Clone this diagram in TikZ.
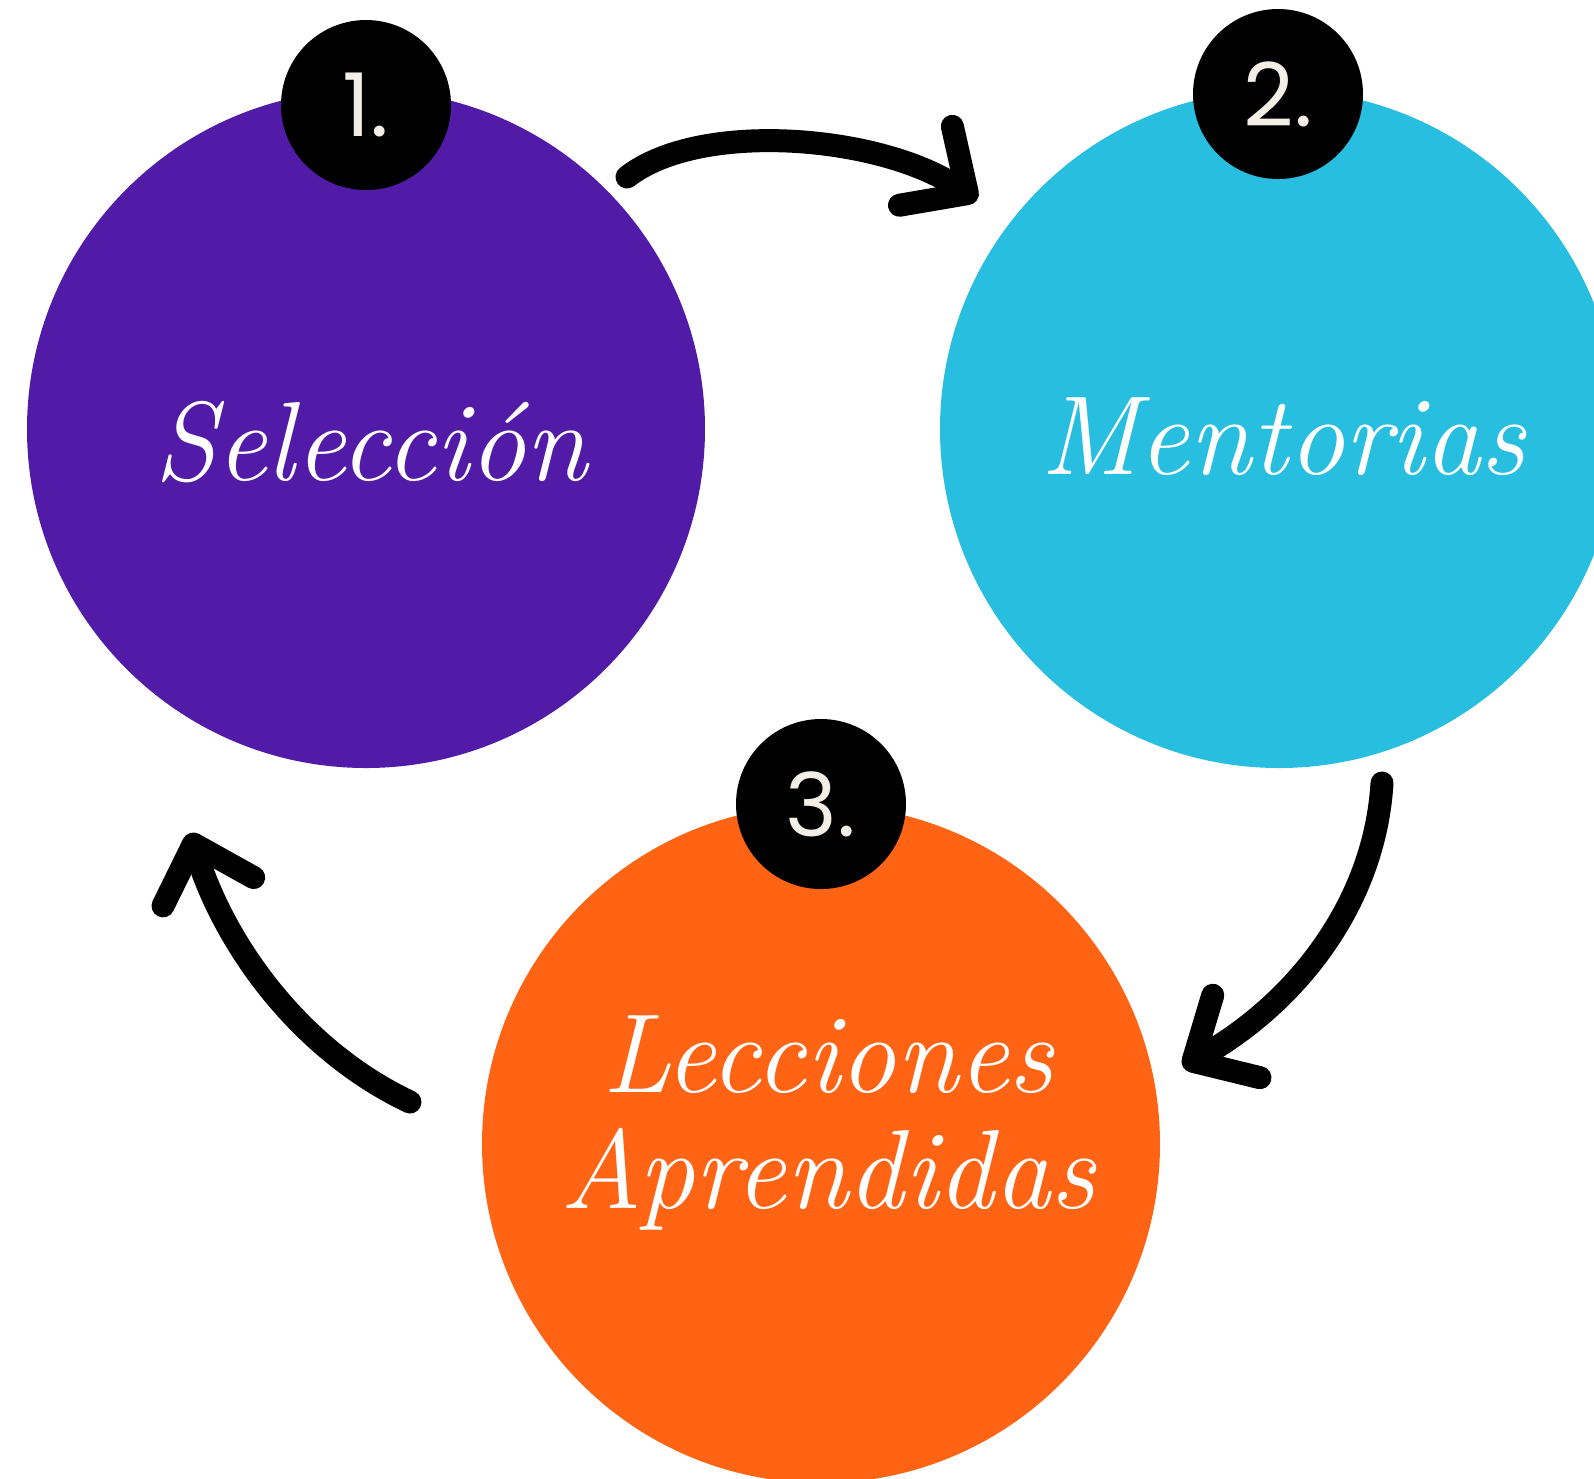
\documentclass[tikz,border=0pt]{standalone}
\usepackage{fontspec}
\newfontfamily\numfont{Poppins}
\usetikzlibrary{arrows.meta,positioning,calc}
\definecolor{selpurple}{HTML}{511BA7}
\definecolor{mentcyan}{HTML}{28BEE0}
\definecolor{lecorange}{HTML}{FF6314}
\definecolor{numcream}{HTML}{F3EEE6}
\tikzset{
     stage/.style={circle, minimum size=67.8mm, inner sep=0pt},
     badge/.style={circle, fill=black, minimum size=17mm, inner sep=0pt,
                   text=numcream, font=\numfont\fontsize{25}{25}\selectfont},
     script/.style={text=white, align=center,
                    font=\fontsize{32}{33}\selectfont\itshape},
     flow/.style={line width=2.3mm, line cap=round,
                  -{Straight Barb[round, length=5mm, width=9.5mm]}}
     }

\begin{document}
\begin{tikzpicture}[x=0.1mm, y=-0.1mm]
    \useasboundingbox (0,0) rectangle (1594,1478);
    \clip (0,0) rectangle (1594,1478);

    % the three stages
    \node [stage, fill=selpurple] (sel) at (366,429) {};
    \node [stage, fill=mentcyan] (ment) at (1279,429) {};
    \node [stage, fill=lecorange] (lec) at (821,1144) {};

    \node [script] (selT) at (371,442) {Selección};
    \node [script] (mentT) at (1283,437) {Mentorias};
    \node [script] (lecT) at (828,1123) {Lecciones\\Aprendidas};

    % numbers
    \node [badge] (n1) at (366,105) {1.};
    \node [badge] (n2) at (1278,94) {2.};
    \node [badge] (n3) at (821,804) {3.};

    % arrow ends
    \coordinate (a1s) at (627,177);
    \coordinate (a1e) at (977,200);
    \coordinate (a2s) at (1382,783);
    \coordinate (a2e) at (1183,1067);
    \coordinate (a3s) at (410,1102);
    \coordinate (a3e) at (190,833);

    \draw [flow] (a1s) .. controls (700,120) and (880,135) .. (a1e);
    \draw [flow] (a2s) .. controls (1375,900) and (1300,1000) .. (a2e);
    \draw [flow] (a3s) .. controls (300,1050) and (225,945) .. (a3e);
\end{tikzpicture}
\end{document}
